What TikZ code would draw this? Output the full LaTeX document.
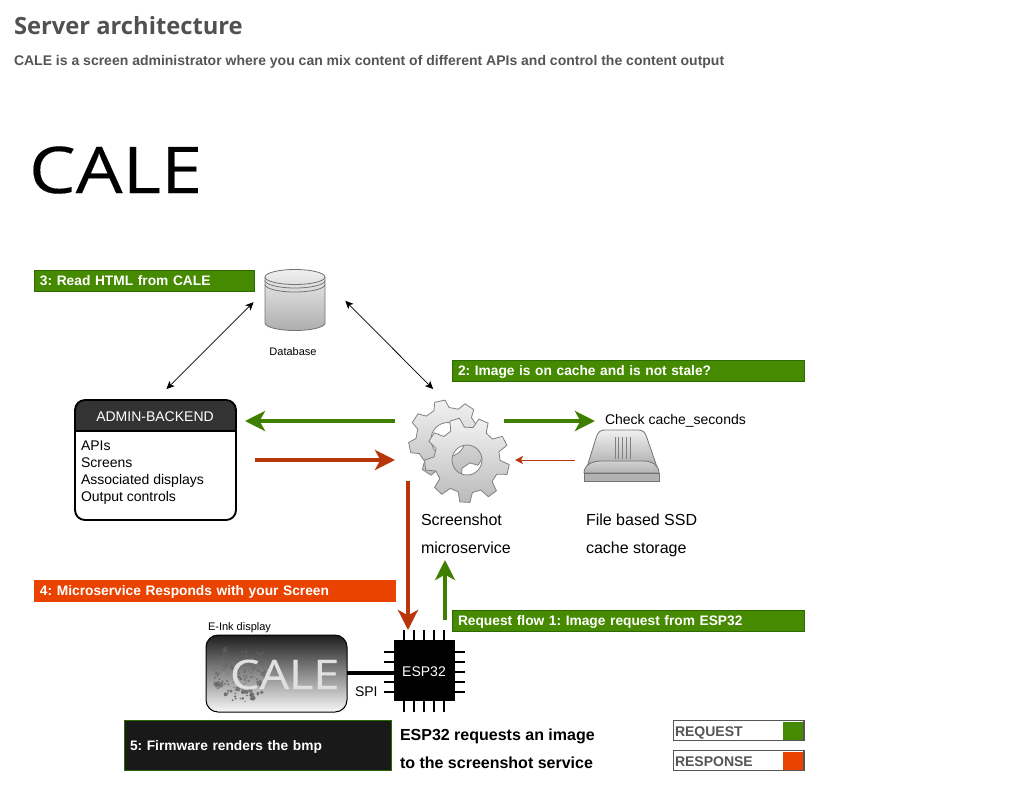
\documentclass[tikz,border=0pt]{standalone}
\usepackage{fontspec}
\setmainfont{Liberation Sans}
\newfontfamily\titlefont{Open Sans}
\newfontfamily\calefont[FakeStretch=1.15,FakeBold=0.25]{Open Sans}
\usetikzlibrary{positioning}
\usetikzlibrary{arrows.meta}
\definecolor{reqgreen}{HTML}{458A00}
\definecolor{reqline}{HTML}{3F7F00}
\definecolor{respline}{HTML}{B8360A}
\definecolor{resporange}{HTML}{EA4300}
\definecolor{edgegreen}{HTML}{2D6A00}
\definecolor{headgrey}{HTML}{333333}
\definecolor{inkgrey}{HTML}{555555}
\newcommand{\gearshape}[7]{% centre x, y, outer radius, root radius, hole radius, teeth, first tooth angle
	\path[even odd rule, shade, top color=black!5, bottom color=black!27, draw=black!50, line width=0.6pt]
		([shift={(#1,#2)}]{#7-112/#6}:#4)
		foreach \k in {1,...,#6} {
			-- ([shift={(#1,#2)}]{#7+\k*360/#6-360/#6-112/#6}:#4)
			-- ([shift={(#1,#2)}]{#7+\k*360/#6-360/#6-61/#6}:#3)
			-- ([shift={(#1,#2)}]{#7+\k*360/#6-360/#6+61/#6}:#3)
			-- ([shift={(#1,#2)}]{#7+\k*360/#6-360/#6+112/#6}:#4)
		} -- cycle
		(#1,#2) circle (#5);
}

\begin{document}
\frenchspacing
\begin{tikzpicture}[
	x=0.75pt, y=-0.75pt,
	every node/.style={ inner sep=0pt,
						outer sep=0pt,
						font=\fontsize{10.5pt}{12.75pt}\selectfont,
						text=black
						},
	label/.style= {anchor=base west},
	bigtext/.style= {anchor=base west,
					font=\fontsize{12pt}{14pt}\selectfont
	},
	banner/.style= {anchor=west,
					align=left,
					fill=#1,
					draw=edgegreen,
					line width=0.75pt,
					inner xsep=4.5pt,
					minimum height=15.75pt,
					text height=8.75pt,
					text depth=1.45pt,
					text=white,
					font=\bfseries\fontsize{10.32pt}{12pt}\selectfont
	},
	legend/.style= {anchor=west,
					draw=inkgrey,
					line width=1.1pt,
					minimum width=98pt,
					minimum height=15pt,
					fill=white
	},
	swatch/.style= {fill=#1,
					minimum width=15pt,
					minimum height=13.5pt
	},
	legendtext/.style= {anchor=base west,
						text=inkgrey,
						font=\bfseries\fontsize{10.5pt}{12pt}\selectfont
	},
	flow/.style= {line width=3pt,
				draw=#1,
				-{Stealth[length=15pt,width=15pt,inset=4pt]}
	},
	link/.style= {line width=0.55pt,
				{Stealth[length=6pt,width=5.5pt,inset=1.5pt]}-{Stealth[length=6pt,width=5.5pt,inset=1.5pt]}
	},
	pin/.style= {line width=1.1pt}
]
	\useasboundingbox (0,0) rectangle (1015,801);

	\node (title) [anchor=base west, text=inkgrey!95!black, font=\titlefont\bfseries\fontsize{17.8pt}{20pt}\selectfont] at (14,34) {Server architecture};
	\node (subtitle) [anchor=base west, text=inkgrey, font=\bfseries\fontsize{10.5pt}{12pt}\selectfont] at (14,65) {CALE is a screen administrator where you can mix content of different APIs and control the content output};
	\node (logo) [anchor=base west, font=\calefont\fontsize{48.3pt}{50pt}\selectfont] at (29,193) {CALE};

	\node (readlabel) [banner=reqgreen, text width=156.25pt] at (34,280.5) {3: Read HTML from CALE};
	\node (cachelabel) [banner=reqgreen, text width=255.25pt] at (452,370.5) {2: Image is on cache and is not stale?};
	\node (resplabel) [banner=resporange, draw=resporange, text width=262pt] at (34,591) {4: Microservice Responds with your Screen};
	\node (reqlabel) [banner=reqgreen, text width=255.25pt] at (452,620.5) {Request flow 1: Image request from ESP32};
	\node (firmware) [banner={black!90}, text width=191.5pt, minimum height=38pt] at (124,745.5) {5: Firmware renders the bmp};

	\node (database) [minimum width=45.75pt, minimum height=45pt] at (295,300) {};
	\path[shade, top color=black!6, bottom color=black!32, draw=black!55, line width=0.6pt]
		(265,277) -- (265,323) arc[start angle=180, end angle=0, x radius=30, y radius=7.5] -- (325,277) arc[start angle=0, end angle=-180, x radius=30, y radius=7.5] -- cycle;
	\foreach \by in {277,280.5,284.5}
		\draw[black!55, line width=0.6pt] (265,\by) arc[start angle=180, end angle=0, x radius=30, y radius=7.5];
	\node (dblabel) [font=\fontsize{8.25pt}{10pt}\selectfont, anchor=base] at (293,355) {Database};

	\node (admin) [minimum width=120.75pt, minimum height=90pt, anchor=north west] at (75,400) {};
	\fill[headgrey] (75,431) -- (75,410) arc[start angle=180, end angle=270, radius=10] -- (226,400) arc[start angle=270, end angle=360, radius=10] -- (236,431) -- cycle;
	\draw[line width=1.1pt] (75,431) -- (236,431);
	\draw[line width=1.4pt, rounded corners=7.5pt] (75,520) rectangle (236,400);
	\node (adminhead) [anchor=base, text=white] at (155,421) {ADMIN-BACKEND};
	\node (adminlist) [label] at (81,450) {APIs};
	\node (adminscreens) [label] at (81,467) {Screens};
	\node (admindisplays) [label] at (81,484) {Associated displays};
	\node (admincontrols) [label] at (81,501) {Output controls};

	\gearshape{448}{439.5}{39.5}{32}{17}{8}{-102}
	\gearshape{467}{460}{42.5}{33}{15}{9}{-107}
	\node (screenshot) [minimum width=76.5pt, minimum height=69pt] at (459,446) {};
	\node (shotname) [bigtext] at (421,525) {Screenshot};
	\node (shotrole) [bigtext] at (421,553) {microservice};

	\node (ssd) [minimum width=57pt, minimum height=38pt, anchor=north west] at (584,430) {};
	\path[shade, top color=black!6, bottom color=black!32, draw=black!55, line width=0.6pt]
		(587,467) -- (596,438) .. controls (598,432) and (600,430) .. (605,430) -- (638,430) .. controls (643,430) and (645,432) .. (647,438) -- (657,467) -- cycle;
	\path[shade, top color=black!18, bottom color=black!30, draw=black!55, line width=0.6pt]
		(584,473) .. controls (584,465) and (592,461) .. (601,461) -- (643,461) .. controls (652,461) and (659,465) .. (659,473) -- cycle;
	\path[fill=black!30, draw=black!55, line width=0.6pt] (584,473) rectangle (659.5,481);
	\foreach \lx in {615,618.7,622.5,626.2,630}
		\draw[black!50, line width=0.6pt] (\lx,437) -- (\lx,459);
	\node (ssdname) [bigtext] at (586,525) {File based SSD};
	\node (ssdrole) [bigtext] at (586,553) {cache storage};
	\node (checklabel) [label] at (605,424) {Check cache\_seconds};

	\node (esp) [fill=black, minimum width=45.75pt, minimum height=45.75pt, anchor=north west] at (394,640) {};
	\node (esplabel) [anchor=base, text=white] at (424,676) {ESP32};
	\foreach \px in {404,414,424,434,444} {
		\draw[pin] (\px,630) -- (\px,640);
		\draw[pin] (\px,701) -- (\px,712);
	}
	\foreach \py in {652,662,672,682,692} {
		\draw[pin] (384,\py) -- (394,\py);
		\draw[pin] (455,\py) -- (465,\py);
	}

	\node (display) [draw, line width=0.75pt, rounded corners=9pt, minimum width=105.75pt, minimum height=57.75pt, anchor=north west, top color=black!88, bottom color=black!3] at (206,635) {};
	\pgfmathsetseed{4242}
	\foreach \d in {1,...,170} {
		\pgfmathsetmacro{\dang}{360*rnd}
		\pgfmathsetmacro{\drad}{29*sqrt(rnd)}
		\pgfmathsetmacro{\dsize}{0.7+2.2*rnd*rnd}
		\pgfmathsetmacro{\dop}{0.35+0.6*(\drad*sin(\dang)+29)/58}
		\fill[black!60, opacity=\dop] ([shift={(241,673)}]\dang:\drad) circle (\dsize);
	}
	\node (displaylogo) [anchor=base west, text=black!12, font=\calefont\fontsize{30.5pt}{31pt}\selectfont] at (230,689) {CALE};
	\node (displaylabel) [label, font=\fontsize{8.25pt}{10pt}\selectfont] at (208,630) {E-Ink display};
	\draw[line width=3pt] (display.east |- 0,673) -- (esp.west |- 0,673);
	\node (spilabel) [label] at (355,696) {SPI};

	\node (esptext) [anchor=base west, font=\bfseries\fontsize{12pt}{14pt}\selectfont] at (400,740) {ESP32 requests an image};
	\node (esptexttwo) [anchor=base west, font=\bfseries\fontsize{12pt}{14pt}\selectfont] at (400,768) {to the screenshot service};

	\node (reqbox) [legend] at (673.5,730.5) {};
	\node (reqswatch) [swatch=reqgreen, left=0.6pt of reqbox.east] {};
	\node (reqtext) [legendtext] at (675,736) {REQUEST};
	\node (respbox) [legend] at (673.5,760.5) {};
	\node (respswatch) [swatch=resporange, left=0.6pt of respbox.east] {};
	\node (resptext) [legendtext] at (675,766) {RESPONSE};

	\coordinate (gearleft) at (395,421);
	\coordinate (gearin) at (395,460);
	\coordinate (gearright) at (504,421);
	\coordinate (checkpoint) at (595,421);
	\coordinate (gearback) at (515,460);
	\coordinate (gearbottom) at (408,481);
	\coordinate (espup) at (445,620);
	\coordinate (shotbottom) at (445,560);

	\draw[link, shorten <=11.6pt, shorten >=11.6pt] (admin.north) -- (database.164);
	\draw[link, shorten <=21pt, shorten >=11.6pt] (database.32) -- (screenshot.108);
	\draw[flow=reqline, shorten >=6.75pt] (gearleft) -- (admin.east |- gearleft);
	\draw[flow=respline, shorten <=14.25pt] (admin.east |- gearin) -- (gearin);
	\draw[flow=reqline] (gearright) -- (checkpoint);
	\draw[respline, line width=0.75pt, shorten <=6.75pt, -{Stealth[length=6pt,width=6pt,inset=1.5pt]}] (ssd.west |- gearback) -- (gearback);
	\draw[flow=respline, shorten >=7.5pt] (gearbottom) -- (gearbottom |- esp.north);
	\draw[flow=reqline] (espup) -- (shotbottom);
\end{tikzpicture}
\end{document}
